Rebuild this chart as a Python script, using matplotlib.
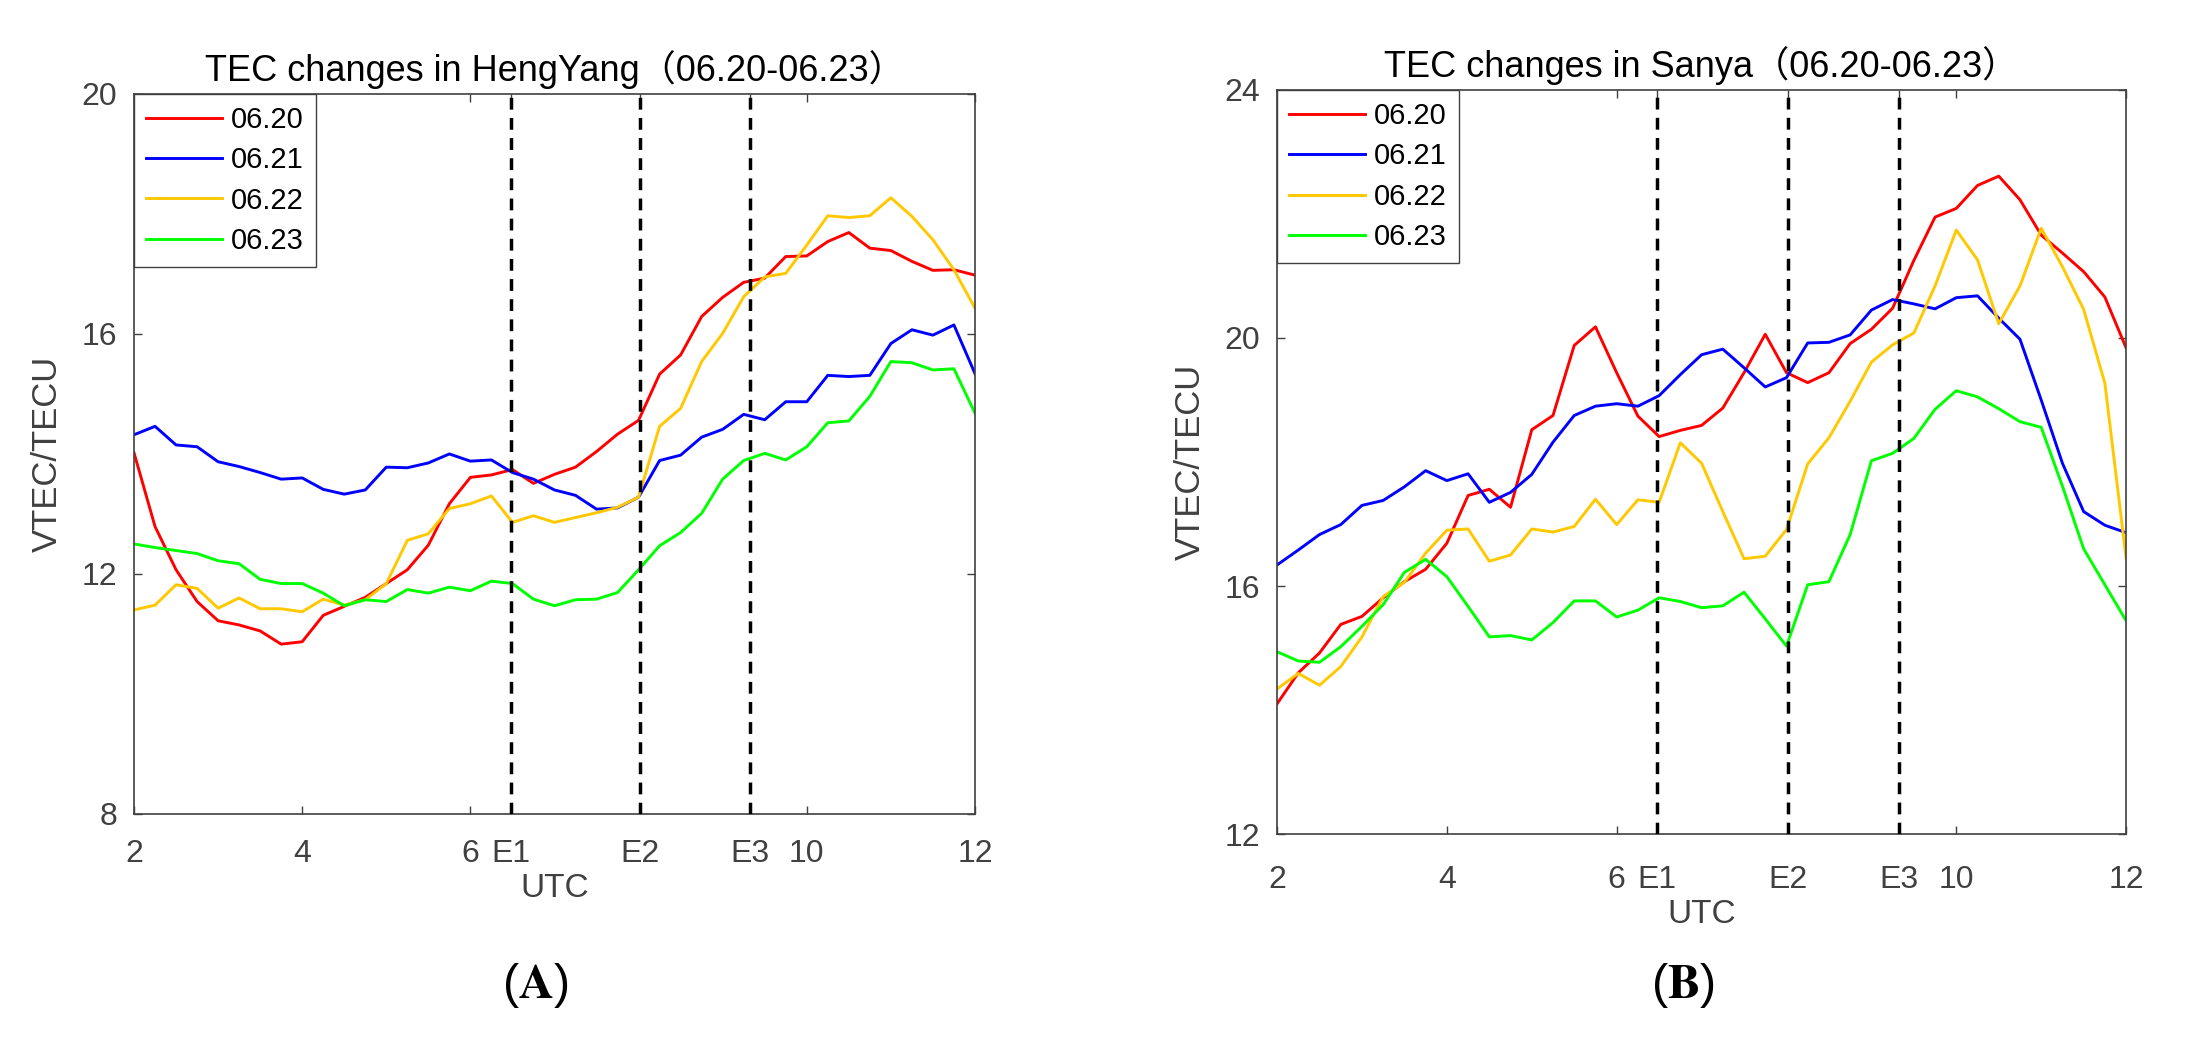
import numpy as np
import matplotlib
matplotlib.use('Agg')
import matplotlib.pyplot as plt

plt.rcParams['font.family'] = ['Liberation Sans', 'Noto Sans CJK SC', 'DejaVu Sans']
plt.rcParams['mathtext.fontset'] = 'stix'

# 15-min samples, 02:00 - 12:00 UTC
hours = np.linspace(2, 12, 41)
events = [6.48, 8.02, 9.33]
xticks_lab = ['2', '4', '6', 'E1', 'E2', 'E3', '10', '12']
days = ['06.20', '06.21', '06.22', '06.23']
colors = ['#ff0000', '#0000ff', '#ffc800', '#00ff00']

# HengYang
hy_0620 = [14.02, 12.79, 12.07, 11.54, 11.22, 11.15, 11.05, 10.83, 10.87, 11.31,
           11.46, 11.61, 11.84, 12.07, 12.48, 13.17, 13.61, 13.65, 13.74, 13.51,
           13.66, 13.78, 14.04, 14.33, 14.56, 15.33, 15.65, 16.29, 16.61, 16.86,
           16.93, 17.29, 17.30, 17.54, 17.69, 17.43, 17.39, 17.21, 17.06, 17.07, 16.98]
hy_0621 = [14.32, 14.46, 14.15, 14.12, 13.87, 13.79, 13.69, 13.58, 13.60, 13.41,
           13.33, 13.40, 13.78, 13.77, 13.85, 14.00, 13.88, 13.90, 13.69, 13.58,
           13.40, 13.31, 13.08, 13.10, 13.28, 13.89, 13.98, 14.28, 14.41, 14.66,
           14.57, 14.87, 14.87, 15.31, 15.29, 15.31, 15.84, 16.07, 15.98, 16.15, 15.34]
hy_0622 = [11.40, 11.48, 11.82, 11.76, 11.43, 11.60, 11.42, 11.42, 11.37, 11.58,
           11.48, 11.57, 11.84, 12.56, 12.67, 13.09, 13.17, 13.30, 12.86, 12.97,
           12.86, 12.94, 13.02, 13.11, 13.28, 14.46, 14.76, 15.54, 16.01, 16.62,
           16.95, 17.01, 17.48, 17.97, 17.94, 17.97, 18.27, 17.96, 17.57, 17.07, 16.43]
hy_0623 = [12.50, 12.44, 12.39, 12.34, 12.22, 12.17, 11.91, 11.84, 11.84, 11.68,
           11.47, 11.57, 11.54, 11.74, 11.68, 11.78, 11.72, 11.88, 11.84, 11.58,
           11.47, 11.57, 11.58, 11.69, 12.07, 12.47, 12.69, 13.01, 13.58, 13.89,
           14.01, 13.90, 14.12, 14.52, 14.55, 14.96, 15.54, 15.52, 15.40, 15.42, 14.68]

# Sanya
sy_0620 = [14.10, 14.60, 14.92, 15.38, 15.51, 15.81, 16.07, 16.27, 16.69, 17.46,
           17.56, 17.27, 18.52, 18.75, 19.88, 20.18, 19.44, 18.74, 18.41, 18.51,
           18.59, 18.87, 19.44, 20.06, 19.44, 19.28, 19.44, 19.91, 20.14, 20.48,
           21.25, 21.95, 22.09, 22.46, 22.61, 22.23, 21.66, 21.37, 21.07, 20.66, 19.84]
sy_0621 = [16.34, 16.58, 16.83, 16.99, 17.30, 17.38, 17.60, 17.86, 17.70, 17.81,
           17.35, 17.51, 17.80, 18.32, 18.75, 18.90, 18.94, 18.90, 19.07, 19.41,
           19.73, 19.82, 19.52, 19.21, 19.36, 19.92, 19.93, 20.05, 20.45, 20.62,
           20.55, 20.47, 20.65, 20.68, 20.32, 19.98, 19.00, 17.98, 17.20, 16.98, 16.86]
sy_0622 = [14.34, 14.59, 14.40, 14.70, 15.18, 15.83, 16.06, 16.53, 16.90, 16.92,
           16.40, 16.50, 16.92, 16.87, 16.96, 17.40, 16.99, 17.39, 17.35, 18.31,
           17.98, 17.20, 16.44, 16.48, 16.91, 17.97, 18.39, 18.98, 19.61, 19.89,
           20.08, 20.84, 21.74, 21.26, 20.23, 20.84, 21.77, 21.15, 20.46, 19.27, 16.45]
sy_0623 = [14.94, 14.79, 14.77, 15.02, 15.35, 15.70, 16.22, 16.43, 16.15, 15.67,
           15.18, 15.20, 15.13, 15.41, 15.76, 15.76, 15.50, 15.61, 15.81, 15.75,
           15.65, 15.68, 15.90, 15.47, 15.03, 16.02, 16.07, 16.83, 18.02, 18.14,
           18.38, 18.85, 19.15, 19.05, 18.86, 18.65, 18.56, 17.61, 16.60, 16.02, 15.44]

GREY = '#404040'


def draw_panel(ax, series, title, ylim, yticks, xpad):
    for vals, lab, c in zip(series, days, colors):
        ax.plot(hours, vals, color=c, lw=2.1, label=lab)
    for e in events:
        ax.axvline(e, color='k', lw=2.5, linestyle=(0, (3.4, 2.4)), zorder=3)

    ax.set_xlim(2, 12)
    ax.set_ylim(*ylim)
    ax.set_xticks([2, 4, 6] + events + [10, 12])
    ax.set_xticklabels(xticks_lab)
    ax.set_yticks(yticks)
    ax.tick_params(direction='in', length=6, width=1, top=True, right=True,
                   labelsize=23, color=GREY, labelcolor=GREY)
    ax.tick_params(axis='x', pad=xpad)
    ax.tick_params(axis='y', pad=12)
    for s in ax.spines.values():
        s.set_color(GREY)
        s.set_linewidth(1.2)

    ax.set_title(title, fontsize=26, pad=9)
    ax.set_xlabel('UTC', fontsize=24, color=GREY, labelpad=3)
    ax.set_ylabel('VTEC/TECU', fontsize=25, color=GREY, labelpad=13)

    leg = ax.legend(loc='upper left', bbox_to_anchor=(0, 1), borderaxespad=0,
                    fontsize=21, fancybox=False, edgecolor=GREY, framealpha=1,
                    handlelength=2.6, handletextpad=0.3, borderpad=0.42,
                    labelspacing=0.42)
    leg.get_frame().set_linewidth(1.0)


fig = plt.figure(figsize=(21.86, 10.45), dpi=100)
ax1 = fig.add_axes([0.0613, 0.2211, 0.3847, 0.689])
ax2 = fig.add_axes([0.5842, 0.2019, 0.3884, 0.712])

draw_panel(ax1, [hy_0620, hy_0621, hy_0622, hy_0623],
           'TEC changes in HengYang（06.20-06.23）', (8, 20), [8, 12, 16, 20], 18)
draw_panel(ax2, [sy_0620, sy_0621, sy_0622, sy_0623],
           'TEC changes in Sanya（06.20-06.23）', (12, 24), [12, 16, 20, 24], 22)

fig.text(535 / 2186, 0.057, r'($\mathbf{A}$)', fontsize=35, ha='center', va='center')
fig.text(1683 / 2186, 0.057, r'($\mathbf{B}$)', fontsize=35, ha='center', va='center')

fig.savefig('out.png', dpi=100)
